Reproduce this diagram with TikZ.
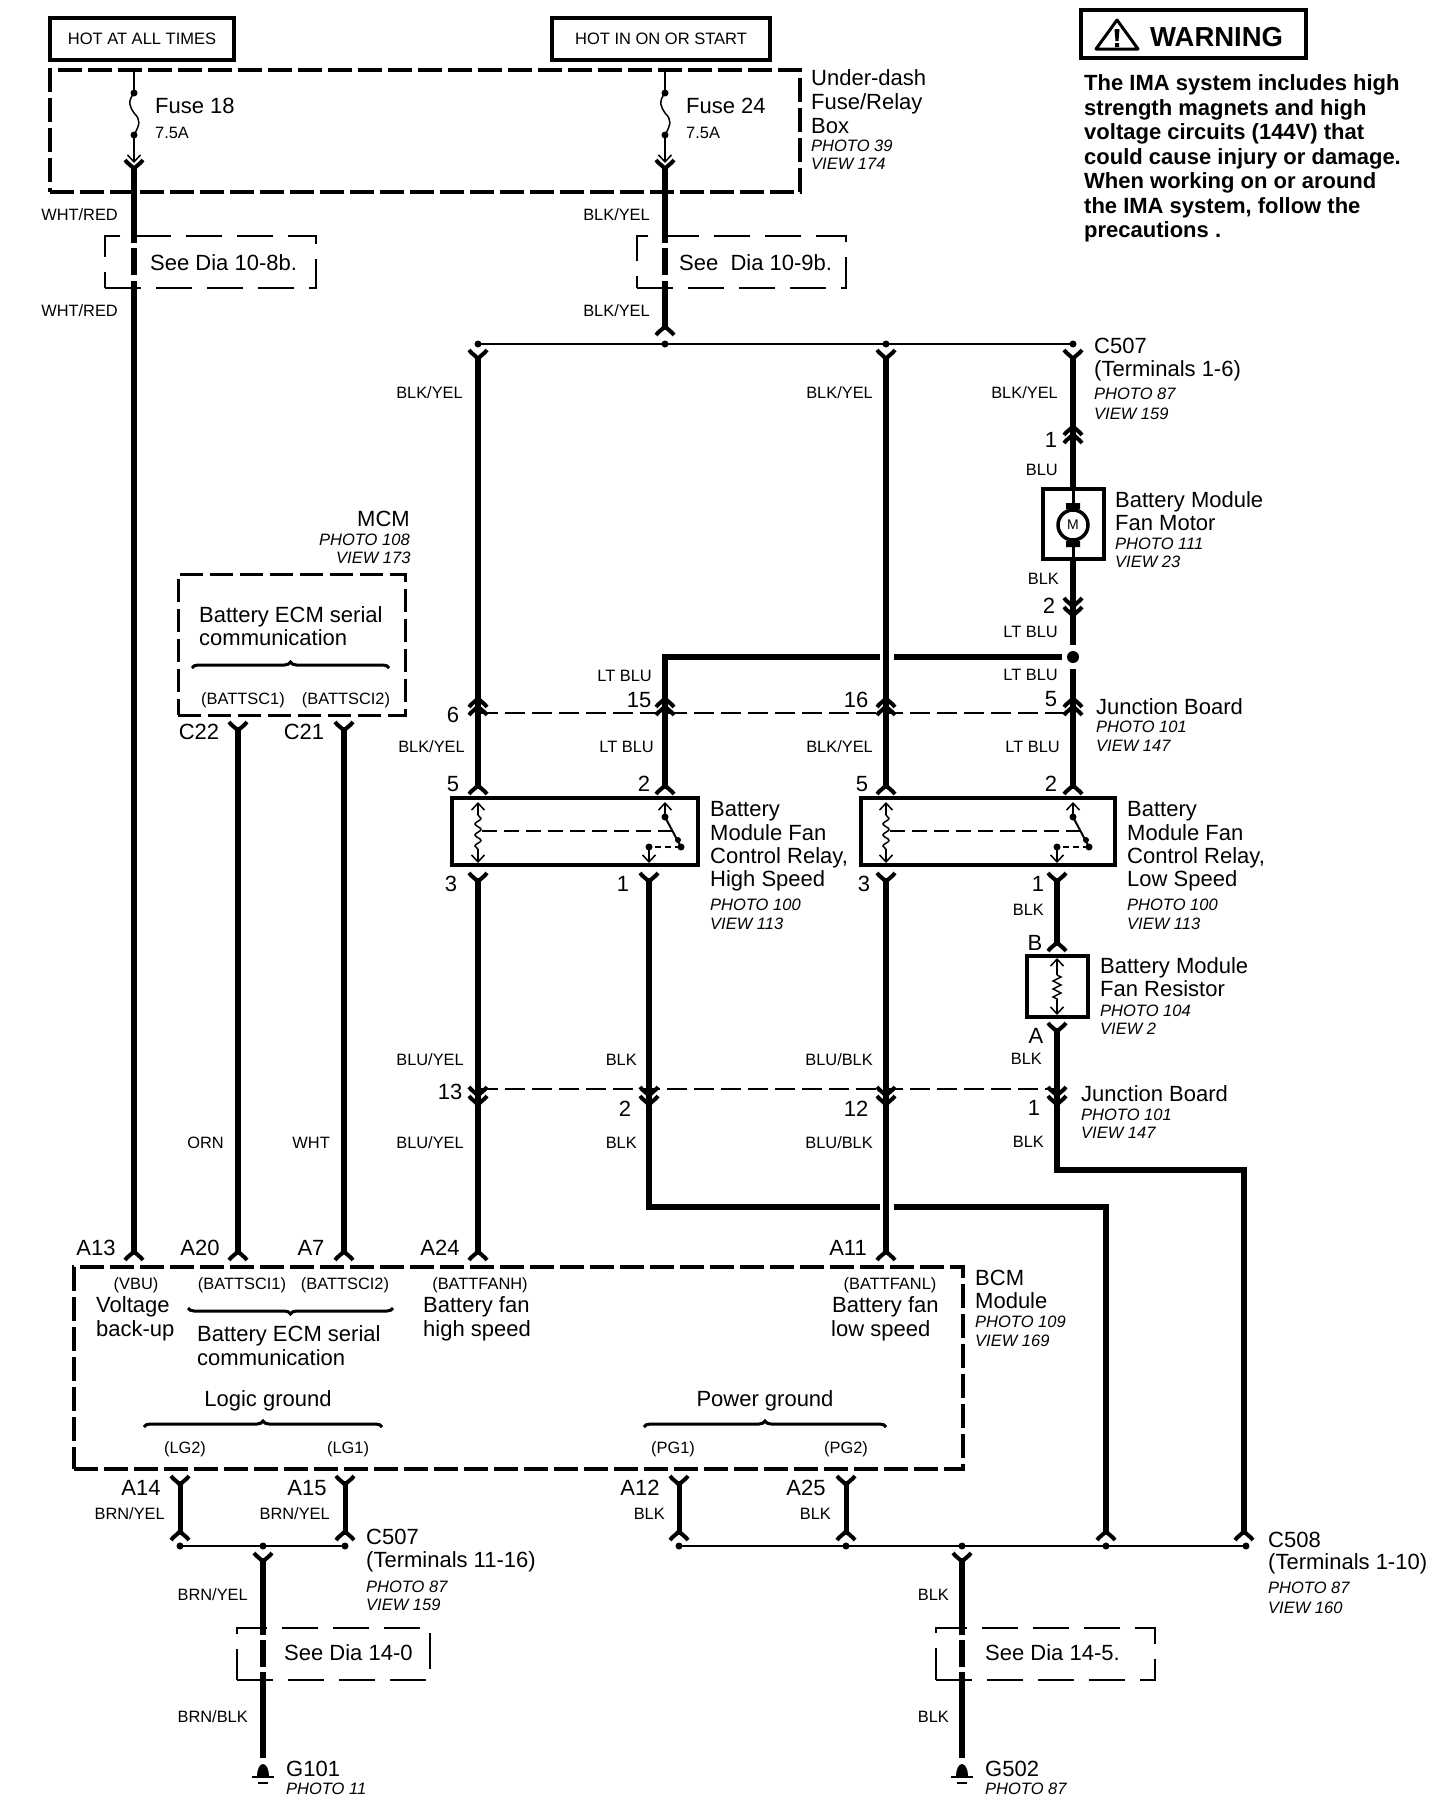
\documentclass[tikz,border=0pt]{standalone}
\usepackage{fontspec}
\setmainfont{Liberation Sans}
\usetikzlibrary{arrows.meta}
\usetikzlibrary{decorations.pathmorphing}
\usetikzlibrary{decorations.pathreplacing}
\tikzset{
  wire/.style={line width=6pt},
  thinwire/.style={line width=1.5pt},
  buswire/.style={line width=2pt},
  barb/.style={thinwire,-{Straight Barb[length=7pt,width=13pt,line width=1.5pt]}},
  cupline/.style={line width=4pt},
  solidbox/.style={draw,line width=3.5pt,inner sep=0pt},
  heavydash/.style={draw,line width=4.5pt,dash pattern=on 24pt off 6pt,inner sep=0pt},
  mediumdash/.style={draw,line width=3pt,dash pattern=on 23pt off 7pt,inner sep=0pt},
  seebox/.style={draw,line width=1.6pt,dash pattern=on 36pt off 15pt,inner sep=0pt},
  linkdash/.style={line width=1.5pt,dash pattern=on 20pt off 7pt},
  biglabel/.style={anchor=west,inner sep=0pt,font=\fontsize{22}{24}\selectfont,text height=16pt,text depth=0pt},
  pinlabel/.style={biglabel,anchor=center},
  wirelabel/.style={anchor=east,inner sep=0pt,font=\fontsize{16.4}{18}\selectfont,text height=11.5pt,text depth=0pt},
  siglabel/.style={wirelabel,anchor=center},
  photolabel/.style={anchor=west,inner sep=0pt,font=\fontsize{16.5}{18}\selectfont\itshape,text height=12pt,text depth=0pt},
  ycup/.pic={\draw[cupline] (-9,-5) .. controls (-6,-1) and (-3,0) .. (0,4) .. controls (3,0) and (6,-1) .. (9,-5);},
  umbrella/.pic={\draw[cupline] (-9,5) .. controls (-6,1) and (-3,0) .. (0,-4) .. controls (3,0) and (6,1) .. (9,5);},
  fusesym/.pic={\draw[thinwire] (0,-21) .. controls (-7,-12) and (-4,-7) .. (0,-1) .. controls (7,6) and (6,10) .. (0,21);},
  gndsym/.pic={
    \fill (-6,6) arc[start angle=180,end angle=360,x radius=6,y radius=12] -- cycle;
    \draw[buswire] (-11,7) -- (11,7) (-5,13) -- (5,13);},
  motorsym/.pic={
    \draw[line width=3pt] (0,-36) -- (0,36);
    \draw[line width=3.5pt,fill=white] (0,0) circle[radius=15];
    \fill (-7,-22) rectangle (7,-16) (-7,16) rectangle (7,22);},
}
\begin{document}
\begin{tikzpicture}[x=1pt,y=-1pt]
\useasboundingbox (0,0) rectangle (1456,1812);

% boxes
\node[solidbox,minimum width=184,minimum height=42,font=\fontsize{16.5}{18}\selectfont] (hotall) at (142,39) {HOT AT ALL TIMES};
\node[solidbox,minimum width=218,minimum height=42,font=\fontsize{16.5}{18}\selectfont] (hoton) at (661,39) {HOT IN ON OR START};
\node[solidbox,minimum width=225,minimum height=48] (warnbox) at (1193.5,34) {};
\node[heavydash,minimum width=750,minimum height=122] (fusebox) at (425,131) {};
\node[mediumdash,minimum width=227,minimum height=141] (mcm) at (291.5,644.5) {};
\node[heavydash,minimum width=889,minimum height=202] (bcm) at (518.5,1368) {};
\node[solidbox,minimum width=61,minimum height=70] (motor) at (1073.5,524) {};
\node[solidbox,minimum width=246,minimum height=67] (relayhigh) at (575,831.5) {};
\node[solidbox,minimum width=254,minimum height=67] (relaylow) at (988,831.5) {};
\node[solidbox,minimum width=61,minimum height=61] (resistor) at (1057.5,986.5) {};
\node[seebox,minimum width=211,minimum height=52] (seea) at (210.5,262) {};
\node[seebox,minimum width=209,minimum height=52] (seeb) at (741.5,262) {};
\node[seebox,minimum width=193,minimum height=52] (seec) at (333.5,1654) {};
\node[seebox,minimum width=219,minimum height=52] (seed) at (1045.5,1654) {};

% warning
\draw[line width=3pt,line join=round] (1117,20) -- (1138,49) -- (1096,49) -- cycle;
\fill (1114.5,29) -- (1119.5,29) -- (1118.5,41) -- (1115.5,41) -- cycle (1115,43) rectangle (1119,47);
\node[anchor=west,inner sep=0pt,font=\fontsize{27.5}{30}\bfseries] (warntitle) at (1150,37) {WARNING};
\node[anchor=north west,inner sep=0pt,align=left,font=\fontsize{22}{24.5}\selectfont\bfseries] (warntext) at (1084,74.5)
  {The IMA system includes high\\strength magnets and high\\voltage circuits (144V) that\\could cause injury or damage.\\When working on or around\\the IMA system, follow the\\precautions .};

% fuses and feeds
\foreach \k/\x in {a/134,b/665}{
  \coordinate (feed\k) at (\x,70);
  \coordinate (fusetop\k) at (\x,93);
  \coordinate (fusebot\k) at (\x,135);
  \coordinate (tip\k) at (\x,163);
  \coordinate (w\k0) at (\x,168);
  \coordinate (w\k1) at (\x,243);
  \coordinate (w\k2) at (\x,248);
  \coordinate (w\k3) at (\x,275);
  \coordinate (w\k4) at (\x,281);
  \draw[thinwire] (feed\k) -- (fusetop\k);
  \draw[barb] (fusebot\k) -- (tip\k);
  \fill (fusetop\k) circle[radius=3.5] (fusebot\k) circle[radius=3.5];
  \pic at (\x,114) {fusesym};
  \pic at (\x,165) {ycup};
  \draw[wire] (w\k0) -- (w\k1) (w\k2) -- (w\k3);
}
\coordinate (a13) at (134,1255);
\coordinate (busdrop) at (665,330);
\draw[wire] (wa4) -- (a13) (wb4) -- (busdrop);
\pic at (busdrop) {umbrella};

% upper bus and the columns below it
\coordinate (busl) at (478,344);
\coordinate (busm) at (665,344);
\coordinate (busn) at (886,344);
\coordinate (busr) at (1073,344);
\draw[thinwire] (busl) -- (busr);
\foreach \p in {busl,busm,busn,busr} \fill (\p) circle[radius=3.5];
\foreach \k/\x in {l/478,n/886,r/1073}{
  \coordinate (top\k) at (\x,357);
  \pic at (\x,355) {ycup};
}
\foreach \k/\x in {l/478,m/665,n/886,r/1073}{
  \coordinate (in\k) at (\x,789);
  \pic at (\x,702) {umbrella};
  \pic at (\x,710) {umbrella};
  \pic at (in\k) {umbrella};
}
\foreach \k/\x in {l/478,s/649,n/886,t/1057}{
  \coordinate (out\k) at (\x,878);
  \pic at (out\k) {ycup};
  \pic at (\x,1092) {ycup};
  \pic at (\x,1101) {ycup};
}
\coordinate (a24) at (478,1255);
\coordinate (a11) at (886,1255);
\coordinate (tee) at (665,657);
\coordinate (teeend) at (880,657);
\coordinate (teegap) at (894,657);
\coordinate (teedot) at (1062,657);
\coordinate (motorin) at (1073,489);
\coordinate (motorout) at (1073,559);
\coordinate (upperend) at (1073,645);
\coordinate (lowerstart) at (1073,669);
\coordinate (junct) at (1073,657);
\draw[wire] (topl) -- (inl) (outl) -- (a24);
\draw[wire] (topn) -- (inn) (outn) -- (a11);
\draw[wire] (topr) -- (motorin) (motorout) -- (upperend) (lowerstart) -- (inr);
\draw[wire] (inm) -- (tee) -- (teeend) (teegap) -- (teedot);
\fill (junct) circle[radius=6];
\pic at (1073,430) {umbrella};
\pic at (1073,438) {umbrella};
\pic at (1073,603) {ycup};
\pic at (1073,612) {ycup};
\pic at (1073,525) {motorsym};
\node[inner sep=0pt,font=\fontsize{14}{14}\selectfont] (motorm) at (1073,525) {M};

% relay insides
\foreach \c/\s/\q in {478/665/649,886/1073/1057}{
  \draw[barb] (\c,815) -- (\c,802);
  \draw[barb] (\c,850) -- (\c,863);
  \draw[thinwire,decorate,decoration={snake,segment length=11pt,amplitude=3pt}] (\c,815) -- (\c,850);
  \draw[thinwire,dash pattern=on 15pt off 7pt] (\c+4,831) -- (\s+7,831);
  \draw[barb] (\s,817) -- (\s,802);
  \draw[line width=2pt] (\s,817) -- (\s+16,847);
  \fill (\s,817) circle[radius=3.5] (\s+13,840) circle[radius=3] (\s+16,847) circle[radius=3.5] (\q,847) circle[radius=3.5];
  \draw[line width=2pt,dash pattern=on 6pt off 4pt] (\s+16,847) -- (\q,847);
  \draw[barb] (\q,847) -- (\q,863);
}

% resistor
\draw[barb] (1057,975) -- (1057,958);
\draw[barb] (1057,1000) -- (1057,1015);
\draw[thinwire,decorate,decoration={zigzag,segment length=8pt,amplitude=4pt}] (1057,975) -- (1057,1000);

% wires from relay outputs
\coordinate (rb) at (1057,946);
\coordinate (ra) at (1057,1028);
\coordinate (c508bend) at (1057,1170);
\coordinate (c508turn) at (1244,1170);
\coordinate (c508in) at (1244,1535);
\coordinate (pbend) at (649,1207);
\coordinate (pgap) at (880,1207);
\coordinate (pgapb) at (894,1207);
\coordinate (pturn) at (1106,1207);
\coordinate (pin) at (1106,1535);
\draw[wire] (outt) -- (rb) (ra) -- (c508bend) -- (c508turn) -- (c508in);
\draw[wire] (outs) -- (pbend) -- (pgap) (pgapb) -- (pturn) -- (pin);
\pic at (rb) {umbrella};
\pic at (ra) {ycup};
\pic at (c508in) {umbrella};
\pic at (pin) {umbrella};

% junction board links
\coordinate (linka) at (478,713);
\coordinate (linkb) at (1073,713);
\coordinate (linkc) at (478,1089);
\coordinate (linkd) at (1057,1089);
\draw[linkdash] (linka) -- (linkb);
\draw[linkdash] (linkc) -- (linkd);

% serial lines
\foreach \k/\x in {a/238,b/344}{
  \coordinate (sera\k) at (\x,727);
  \coordinate (serb\k) at (\x,1255);
  \pic at (sera\k) {ycup};
  \draw[wire] (sera\k) -- (serb\k);
  \pic at (serb\k) {umbrella};
}
\foreach \p in {a13,a24,a11} \pic at (\p) {umbrella};

% BCM grounds
\foreach \k/\x in {a/180,b/345,c/679,d/846}{
  \coordinate (gnda\k) at (\x,1481);
  \coordinate (gndb\k) at (\x,1535);
  \pic at (gnda\k) {ycup};
  \draw[wire,line width=5pt] (gnda\k) -- (gndb\k);
  \pic at (gndb\k) {umbrella};
}
\coordinate (busa) at (180,1546);
\coordinate (busb) at (345,1546);
\coordinate (busc) at (679,1546);
\coordinate (busd) at (1246,1546);
\draw[buswire] (busa) -- (busb) (busc) -- (busd);
\foreach \x in {180,263,345,679,846,962,1106,1246} \fill (\x,1546) circle[radius=3.5];
\foreach \k/\x in {a/263,b/962}{
  \coordinate (drop\k0) at (\x,1558);
  \coordinate (drop\k1) at (\x,1635);
  \coordinate (drop\k2) at (\x,1640);
  \coordinate (drop\k3) at (\x,1667);
  \coordinate (drop\k4) at (\x,1672);
  \coordinate (drop\k5) at (\x,1758);
  \pic at (drop\k0) {ycup};
  \draw[wire] (drop\k0) -- (drop\k1) (drop\k2) -- (drop\k3) (drop\k4) -- (drop\k5);
  \pic at (\x,1770) {gndsym};
}

% braces
\coordinate (bra) at (192,668);
\coordinate (brb) at (389,668);
\coordinate (brc) at (393,1308);
\coordinate (brd) at (188,1308);
\coordinate (bre) at (144,1427);
\coordinate (brf) at (382,1427);
\coordinate (brg) at (644,1427);
\coordinate (brh) at (886,1427);
\foreach \a/\b in {bra/brb,brc/brd,bre/brf,brg/brh}
  \draw[line width=3pt,decorate,decoration={brace,amplitude=6pt}] (\a) -- (\b);

% large labels
\foreach \x/\y/\t in {155/105/Fuse 18,686/105/Fuse 24,811/77/Under-dash,811/101/{Fuse/Relay},811/125/Box,
    150/262/See Dia 10-8b.,679/262/{See\ \ Dia 10-9b.},284/1652/See Dia 14-0,985/1652/See Dia 14-5.,
    1094/345/C507,1094/368/(Terminals 1-6),1115/499/Battery Module,1115/522/Fan Motor,
    1096/706/Junction Board,710/808/Battery,710/832/Module Fan,710/855/{Control Relay,},710/878/High Speed,
    1127/808/Battery,1127/832/Module Fan,1127/855/{Control Relay,},1127/878/Low Speed,
    1100/965/Battery Module,1100/988/Fan Resistor,1081/1093/Junction Board,
    357/518/MCM,199/614/Battery ECM serial,199/637/communication,
    96/1304/Voltage,96/1328/back-up,197/1333/Battery ECM serial,197/1357/communication,
    423/1304/Battery fan,423/1328/high speed,832/1304/Battery fan,831/1328/low speed,
    975/1277/BCM,975/1300/Module,366/1536/C507,366/1559/(Terminals 11-16),
    1268/1539/C508,1268/1561/(Terminals 1-10),286/1768/G101,985/1768/G502}
  \node[biglabel] (big-\x-\y) at (\x,\y) {\t};
\foreach \x/\y/\t in {1051/439/1,1049/605/2,1051/698/5,453/714/6,639/699/15,856/699/16,
    453/783/5,644/783/2,862/783/5,1051/783/2,451/883/3,623/883/1,864/883/3,1038/883/1,
    1035/942/B,1036/1035/A,450/1091/13,625/1108/2,856/1108/12,1034/1107/1,
    199/731/C22,304/731/C21,96/1247/A13,200/1247/A20,311/1247/A7,440/1247/A24,848/1247/A11,
    141/1487/A14,307/1487/A15,640/1487/A12,806/1487/A25,
    268/1398/Logic ground,765/1398/Power ground}
  \node[pinlabel] (pin-\x-\y) at (\x,\y) {\t};

% wire colours
\foreach \x/\y/\t in {118/215/{WHT/RED},118/311/{WHT/RED},650/215/{BLK/YEL},650/311/{BLK/YEL},
    463/393/{BLK/YEL},873/393/{BLK/YEL},1058/393/{BLK/YEL},1058/470/BLU,1059/579/BLK,
    1058/632/LT BLU,1058/675/LT BLU,652/676/LT BLU,465/747/{BLK/YEL},654/747/LT BLU,873/747/{BLK/YEL},1060/747/LT BLU,
    1044/910/BLK,464/1060/{BLU/YEL},637/1060/BLK,873/1060/{BLU/BLK},1042/1059/BLK,
    224/1143/ORN,330/1143/WHT,464/1143/{BLU/YEL},637/1143/BLK,873/1143/{BLU/BLK},1044/1142/BLK,
    165/1514/{BRN/YEL},330/1514/{BRN/YEL},665/1514/BLK,831/1514/BLK,
    248/1595/{BRN/YEL},248/1717/{BRN/BLK},949/1595/BLK,949/1717/BLK}
  \node[wirelabel] (col-\x-\y) at (\x,\y) {\t};
\foreach \x/\y/\t in {243/699/(BATTSC1),346/699/(BATTSCI2),136/1284/(VBU),242/1284/(BATTSCI1),345/1284/(BATTSCI2),
    480/1284/(BATTFANH),890/1284/(BATTFANL),185/1448/(LG2),348/1448/(LG1),673/1448/(PG1),846/1448/(PG2)}
  \node[siglabel] (sig-\x-\y) at (\x,\y) {\t};
\node[wirelabel,anchor=west] (fuseamp) at (155,133) {7.5A};
\node[wirelabel,anchor=west] (fuseampb) at (686,133) {7.5A};

% photo and view references
\foreach \x/\y/\t in {811/145/PHOTO 39,811/163/VIEW 174,1094/393/PHOTO 87,1094/413/VIEW 159,
    1115/543/PHOTO 111,1115/561/VIEW 23,1096/726/PHOTO 101,1096/745/VIEW 147,
    710/904/PHOTO 100,710/923/VIEW 113,1127/904/PHOTO 100,1127/923/VIEW 113,
    1100/1010/PHOTO 104,1100/1028/VIEW 2,1081/1114/PHOTO 101,1081/1132/VIEW 147,
    319/539/PHOTO 108,336/557/VIEW 173,975/1321/PHOTO 109,975/1340/VIEW 169,
    366/1586/PHOTO 87,366/1604/VIEW 159,1268/1587/PHOTO 87,1268/1607/VIEW 160,
    286/1788/PHOTO 11,985/1788/PHOTO 87}
  \node[photolabel] (ref-\x-\y) at (\x,\y) {\t};
\end{tikzpicture}
\end{document}
